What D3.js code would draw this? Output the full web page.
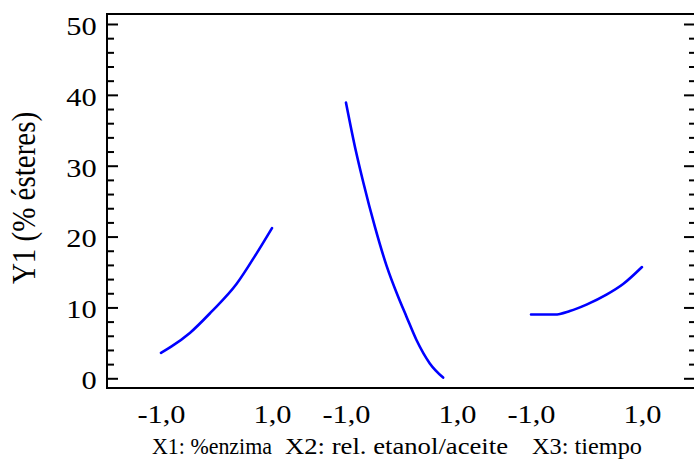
<!DOCTYPE html>
<html>
<head>
<meta charset="utf-8">
<script src="https://cdn.jsdelivr.net/npm/d3@7"></script>
<style>
  html, body { margin: 0; padding: 0; background: #fff; }
  svg { display: block; }
  text { font-family: "Liberation Serif", "Times New Roman", serif; fill: #000; }
</style>
</head>
<body>
<svg id="chart" width="694" height="460"></svg>
<script>
// Factors (each panel is one coded factor from -1 to +1)
const factors = ["X1: %enzima", "X2: rel. etanol/aceite", "X3: tiempo"];

// Response traces per factor (coded level, Y1 in %)
const enzimaX  = [-1.0, -0.81, -0.48, -0.09, 0.36, 0.72, 1.0];
const enzimaY  = [3.6, 4.5, 6.4, 9.4, 13.3, 17.6, 21.2];

const etanolX  = [-1.0, -0.82, -0.69, -0.48, -0.27, -0.06, 0.09, 0.27, 0.51, 0.75];
const etanolY  = [38.9, 32.0, 27.7, 21.4, 15.9, 11.5, 8.7, 5.4, 2.1, 0.1];

const tiempoX  = [-1.0, -0.57, -0.30, 0.0, 0.36, 0.66, 1.0];
const tiempoY  = [9.0, 9.0, 9.5, 10.4, 11.8, 13.3, 15.7];

const levelTicks = [-1, 1];
const yMajor = [0, 10, 20, 30, 40, 50];
const yMinor = d3.range(0, 51, 2).filter(v => v % 10 !== 0);

const seriesX = [enzimaX, etanolX, tiempoX];
const seriesY = [enzimaY, etanolY, tiempoY];

const svg = d3.select("#chart");
const plotL = 107, plotR = 696, plotT = 14, plotB = 388;
const sx = 1.17; // horizontal stretch of the lettering
const serif = '"Liberation Serif", "Times New Roman", serif';

const y = d3.scaleLinear().domain([-1.37, 51.41]).range([plotB, plotT]);
const panel = d3.scalePoint().domain(factors).range([216.5, 586.5]);
const level = d3.scaleLinear().domain([-1, 1]).range([-55.5, 55.5]);

// Frame
svg.append("rect")
  .attr("x", plotL).attr("y", plotT)
  .attr("width", plotR - plotL).attr("height", plotB - plotT)
  .attr("fill", "none").attr("stroke", "#000").attr("stroke-width", 2);

// Left axis: major ticks with labels, minor ticks inside
const gLeft = svg.append("g").attr("transform", `translate(${plotL},0)`);
gLeft.call(d3.axisLeft(y).tickValues(yMajor).tickSize(-11).tickPadding(8.8)
  .tickFormat(d3.format("d")));
gLeft.select(".domain").remove();
gLeft.selectAll(".tick line").attr("stroke-width", 2);
gLeft.selectAll(".tick text")
  .style("font-family", serif).style("font-size", "26px")
  .attr("dy", "0.4em")
  .attr("transform", `scale(${sx},1)`);

const gLeftMinor = svg.append("g").attr("transform", `translate(${plotL},0)`);
gLeftMinor.call(d3.axisLeft(y).tickValues(yMinor).tickSize(-7).tickFormat(""));
gLeftMinor.select(".domain").remove();
gLeftMinor.selectAll(".tick line").attr("stroke-width", 2);

// Right axis: ticks only, pointing inward
const gRight = svg.append("g").attr("transform", `translate(${plotR - 2},0)`);
gRight.call(d3.axisRight(y).tickValues(yMajor).tickSize(-10).tickFormat(""));
gRight.select(".domain").remove();
gRight.selectAll(".tick line").attr("stroke-width", 2);
const gRightMinor = svg.append("g").attr("transform", `translate(${plotR - 2},0)`);
gRightMinor.call(d3.axisRight(y).tickValues(yMinor).tickSize(-5).tickFormat(""));
gRightMinor.select(".domain").remove();
gRightMinor.selectAll(".tick line").attr("stroke-width", 2);

// Bottom: level labels for each factor panel
const fmt = v => d3.format(".1f")(v).replace(".", ",").replace("\u2212", "-");
factors.forEach(f => {
  const g = svg.append("g").attr("transform", `translate(${panel(f)},${plotB})`);
  g.call(d3.axisBottom(level).tickValues(levelTicks).tickSize(0).tickPadding(0).tickFormat(fmt));
  g.select(".domain").remove();
  g.selectAll(".tick text")
    .style("font-family", serif).style("font-size", "26px")
    .attr("y", 35).attr("dy", 0)
    .attr("transform", `scale(${sx},1)`);
});

// Factor names under the level labels
const nameStart = [152, 285, 532];
const nameWidth = [120, 223, 110];
svg.selectAll("text.factor").data(factors).enter().append("text")
  .attr("class", "factor")
  .attr("x", (d, i) => nameStart[i])
  .attr("y", 454)
  .style("font-family", serif).style("font-size", "23px")
  .attr("textLength", (d, i) => nameWidth[i])
  .attr("lengthAdjust", "spacingAndGlyphs")
  .text(d => d);

// Y axis title
svg.append("text")
  .attr("transform", `translate(35,198) scale(${sx},1) rotate(-90)`)
  .attr("text-anchor", "middle")
  .style("font-family", serif).style("font-size", "29px")
  .text("Y1 (% ésteres)");

// Response traces
const line = d3.line()
  .x(d => d.px)
  .y(d => y(d.v))
  .curve(d3.curveMonotoneX);

factors.forEach((f, i) => {
  const pts = seriesX[i].map((xv, j) => ({ px: panel(f) + level(xv), v: seriesY[i][j] }));
  svg.append("path")
    .datum(pts)
    .attr("d", line)
    .attr("fill", "none")
    .attr("stroke", "#0000ff")
    .attr("stroke-width", 2.6)
    .attr("stroke-linecap", "round");
});
</script>
</body>
</html>
